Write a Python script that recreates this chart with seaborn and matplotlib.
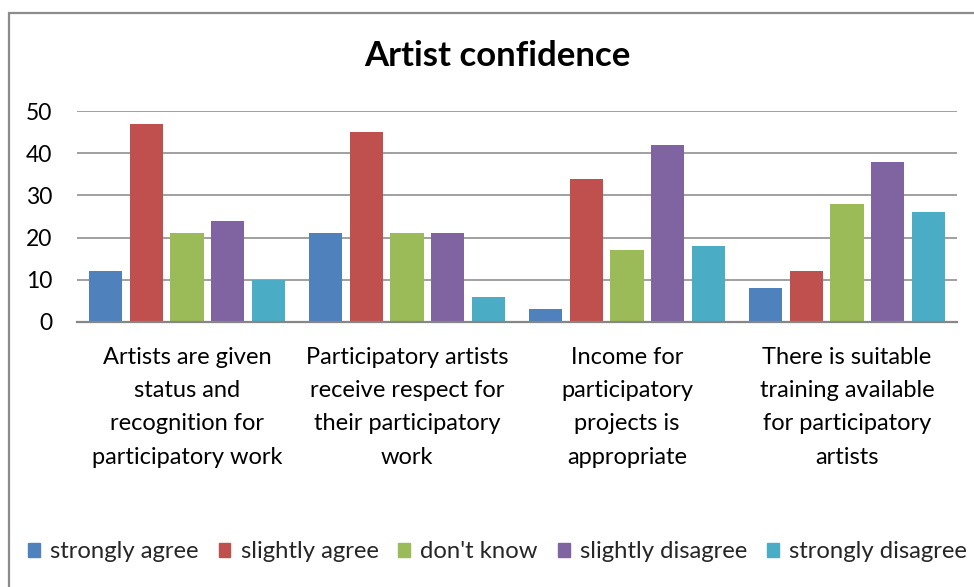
import matplotlib
matplotlib.use("Agg")
import matplotlib.pyplot as plt
import matplotlib.patches as mpatches
import seaborn as sns
import pandas as pd

categories = [
    "Artists are given\nstatus and\nrecognition for\nparticipatory work",
    "Participatory artists\nreceive respect for\ntheir participatory\nwork",
    "Income for\nparticipatory\nprojects is\nappropriate",
    "There is suitable\ntraining available\nfor participatory\nartists",
]
responses = ["strongly agree", "slightly agree", "don't know",
             "slightly disagree", "strongly disagree"]
strongly_agree = [12, 21, 3, 8]
slightly_agree = [47, 45, 34, 12]
dont_know = [21, 21, 17, 28]
slightly_disagree = [24, 21, 42, 38]
strongly_disagree = [10, 6, 18, 26]
yticks = [0, 10, 20, 30, 40, 50]

colors = ["#4F81BD", "#C0504D", "#9BBB59", "#8064A2", "#4BACC6"]

series = [strongly_agree, slightly_agree, dont_know,
          slightly_disagree, strongly_disagree]
rows = []
for resp, vals in zip(responses, series):
    for cat, v in zip(categories, vals):
        rows.append({"category": cat, "response": resp, "count": v})
df = pd.DataFrame(rows)

sns.set_theme(style="white")
FONT = ["Lato", "DejaVu Sans"]
plt.rcParams["font.family"] = FONT

fig = plt.figure(figsize=(9.74, 5.87), dpi=100)
ax = fig.add_axes([77 / 974, 1 - 322 / 587, 880 / 974, 211 / 587])

sns.barplot(data=df, x="category", y="count", hue="response",
            hue_order=responses, order=categories, palette=colors,
            width=0.93, gap=0.19, saturation=1, ax=ax, legend=False,
            linewidth=0)

ax.set_ylim(0, 50)
ax.set_xlim(-0.5, 3.5)
ax.set_yticks(yticks)
ax.yaxis.grid(True, color="#868686", linewidth=1.1)
ax.set_axisbelow(True)
for side in ["top", "right", "left"]:
    ax.spines[side].set_visible(False)
ax.spines["bottom"].set_color("#868686")
ax.spines["bottom"].set_linewidth(1.6)
ax.set_xlabel("")
ax.set_ylabel("")
ax.tick_params(axis="y", length=0, pad=18, labelsize=16.5, labelcolor="black")
ax.tick_params(axis="x", length=0, pad=18, labelsize=17, labelcolor="black")
for lbl in ax.get_xticklabels():
    lbl.set_linespacing(1.72)
    lbl.set_ha("center")

fig.text(497 / 974, 1 - 56 / 587, "Artist confidence", ha="center",
         va="center", fontsize=25, fontweight="bold", color="black")

# chart frame
frame = mpatches.Rectangle((8.5 / 974, -0.2), 1.2, 1.2 - 12.5 / 587,
                           transform=fig.transFigure, fill=False,
                           edgecolor="#8C8C8C", linewidth=1.6,
                           clip_on=False)
fig.patches.append(frame)

handles = [mpatches.Patch(color=c, label=r) for c, r in zip(colors, responses)]
fig.legend(handles=handles, loc="center left", ncol=5,
           bbox_to_anchor=(28 / 974, 1 - 552 / 587), frameon=False,
           fontsize=17.2, handlelength=0.5, handleheight=0.5,
           handletextpad=0.42, columnspacing=0.84, borderaxespad=0,
           borderpad=0)

fig.savefig("out.png", dpi=100)
